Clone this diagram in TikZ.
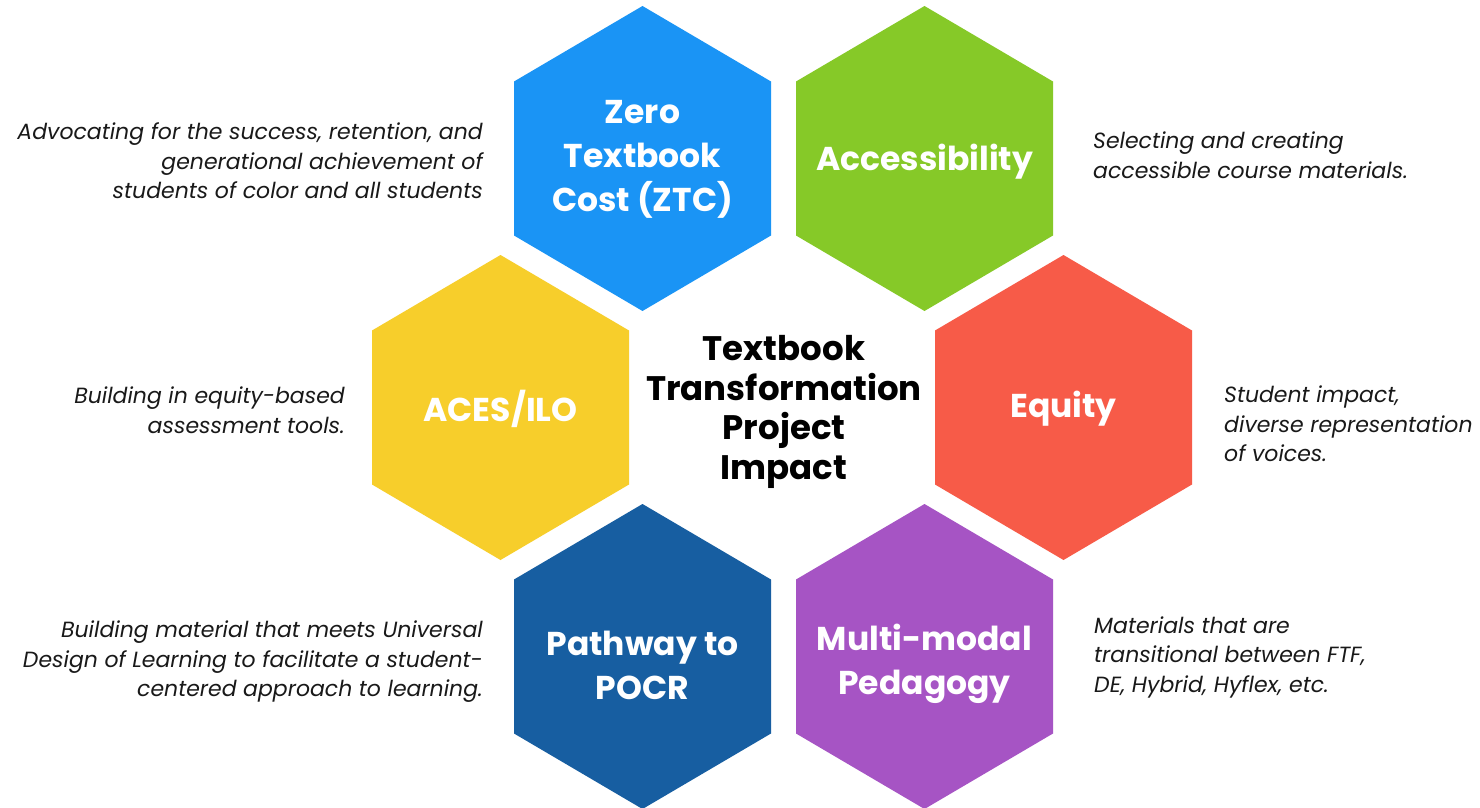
\documentclass[tikz,border=0pt]{standalone}
\usepackage{fontspec}
\setmainfont{Poppins}
\newfontfamily\labfont{Poppins}[UprightFont=* Bold]
\newfontfamily\descfont{Poppins}
\definecolor{cblue}{HTML}{1A94F5}
\definecolor{cgreen}{HTML}{86C928}
\definecolor{cyellow}{HTML}{F7CE2B}
\definecolor{cred}{HTML}{F75B48}
\definecolor{cnavy}{HTML}{175EA1}
\definecolor{cpurple}{HTML}{A654C4}
\tikzset{
  hexlabel/.style={text=white, align=center, font=\labfont\fontsize{33}{44}\selectfont, inner sep=0pt},
  title/.style={text=black, align=center, font=\labfont\fontsize{34}{39.5}\selectfont, inner sep=0pt},
  descl/.style={text=black!90, align=right, anchor=east, font=\descfont\itshape\fontsize{22}{29.5}\selectfont, inner sep=0pt},
  descr/.style={text=black!90, align=left, anchor=west, font=\descfont\itshape\fontsize{22}{29.5}\selectfont, inner sep=0pt},
}
\newcommand\hexfill[3]{%
  \fill[#3] (#1,#2) ++(0,-152.5) -- ++(128.5,75.5) -- ++(0,154) -- ++(-128.5,75.5) -- ++(-128.5,-75.5) -- ++(0,-154) -- cycle;}
\begin{document}
\begin{tikzpicture}[x=1pt,y=-1pt]
\useasboundingbox (0,0) rectangle (1480,808);
\fill[white] (0,0) rectangle (1480,808);
\hexfill{642.5}{158.5}{cblue}
\hexfill{924.5}{158.5}{cgreen}
\hexfill{500.5}{407.5}{cyellow}
\hexfill{1063.5}{407.5}{cred}
\hexfill{642.5}{656.5}{cnavy}
\hexfill{924.5}{656.5}{cpurple}
\node[hexlabel] (ztc) at (642.5,159) {Zero\\Textbook\\Cost (ZTC)};
\node[hexlabel] (acc) at (924.5,162) {Accessibility};
\node[hexlabel] (aces) at (500.5,409) {ACES/ILO};
\node[hexlabel] (eq) at (1063.5,409) {Equity};
\node[hexlabel] (pocr) at (642.5,665) {Pathway to\\POCR};
\node[hexlabel] (mm) at (924.5,664) {Multi-modal\\Pedagogy};
\node[title] (ttl) at (784,412) {Textbook\\Transformation\\Project\\Impact};
\node[descl] (d1) at (483,161) {Advocating for the success, retention, and\\generational achievement of\\students of color and all students};
\node[descr] (d2) at (1093,155) {Selecting and creating\\accessible course materials.};
\node[descl] (d3) at (345,410) {Building in equity-based\\assessment tools.};
\node[descr] (d4) at (1224,424) {Student impact,\\diverse representation\\of voices.};
\node[descl] (d5) at (483,662) {Building material that meets Universal\\Design of Learning to facilitate a student-\\centered approach to learning.};
\node[descr] (d6) at (1094,657) {Materials that are\\transitional between FTF,\\DE, Hybrid, Hyflex, etc.};
\end{tikzpicture}
\end{document}
